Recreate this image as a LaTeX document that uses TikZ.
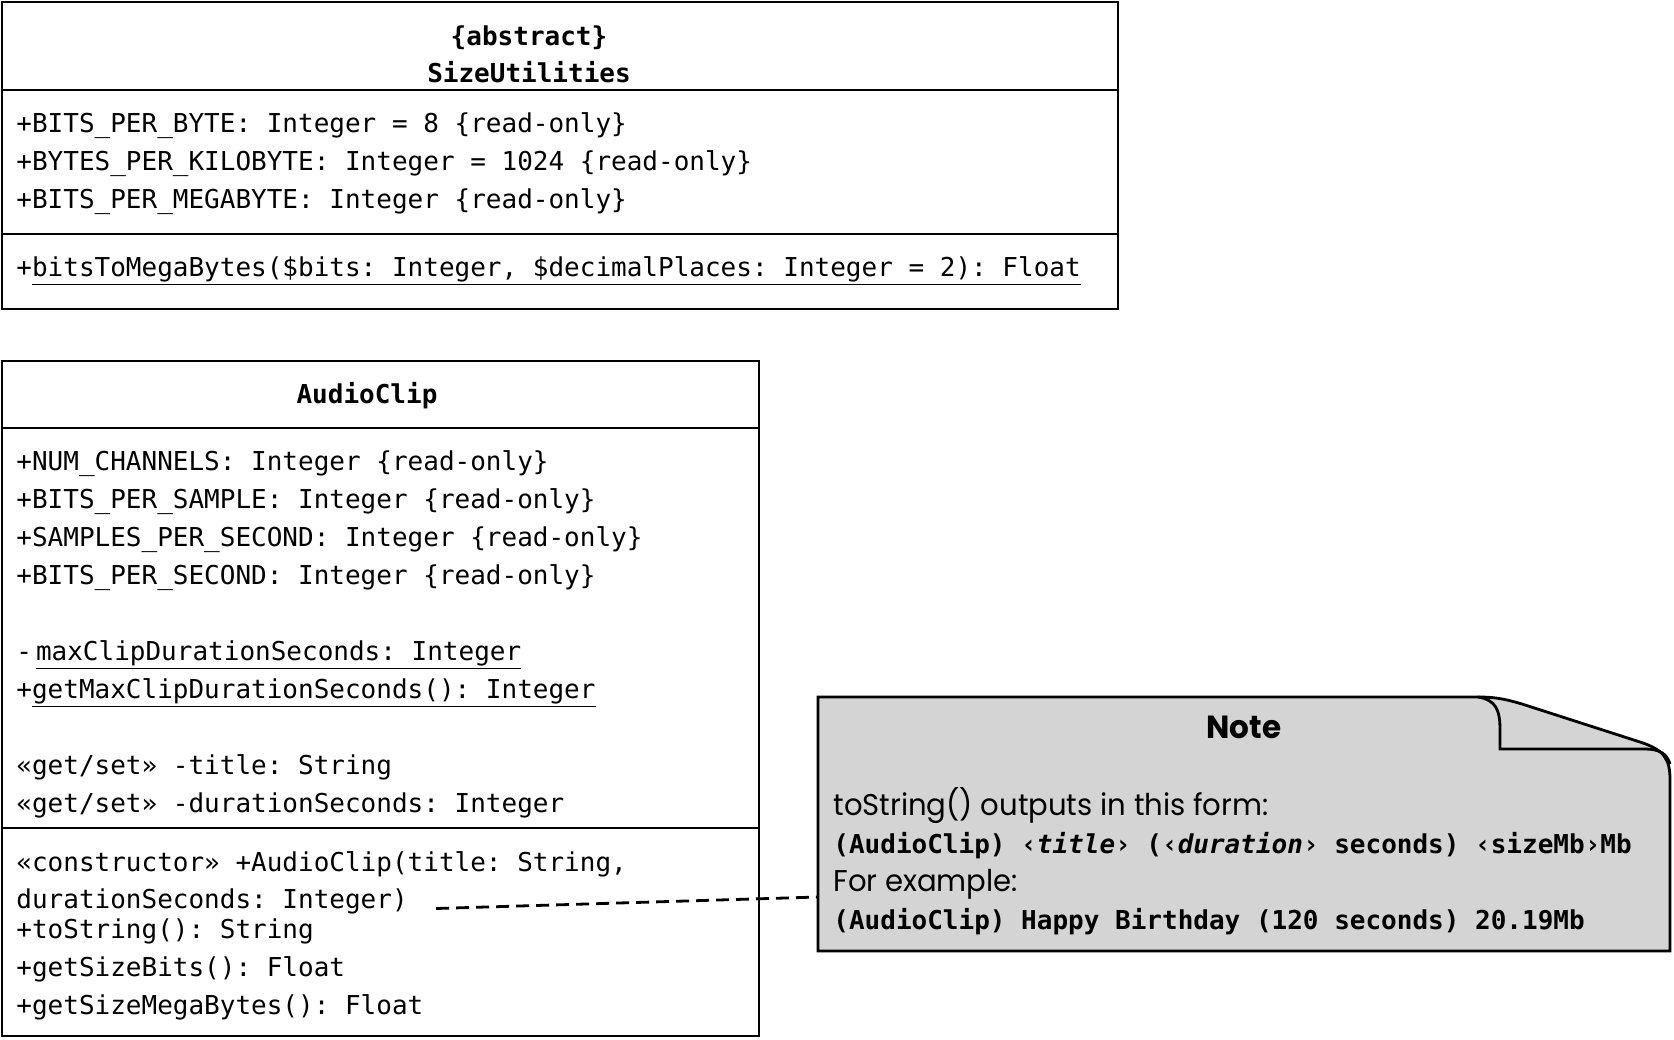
\documentclass[tikz,border=0pt]{standalone}
\usepackage{fontspec}
\setmonofont{DejaVu Sans Mono}
\newfontfamily\notefont{Poppins}[FakeStretch=0.97]
\usetikzlibrary{positioning}
\definecolor{notegray}{RGB}{212,212,212}

\begin{document}
\begin{tikzpicture}[
      x=0.5pt, y=-0.5pt,
      line width=1.4pt,
      compartment/.style={
          draw, rectangle, inner sep=0pt,
          outer sep=0pt,          % shared edges between compartments
          minimum width=558pt
        },
      member/.style={anchor=base west, inner sep=0pt,
          font=\fontsize{13pt}{15pt}\ttfamily\frenchspacing},
      classname/.style={member, anchor=base,
          font=\fontsize{13pt}{15pt}\ttfamily\bfseries\frenchspacing},
      notetext/.style={anchor=base west, inner sep=0pt,
          font=\fontsize{15pt}{17pt}\notefont},
      notecode/.style={anchor=base west, inner sep=0pt,
          font=\fontsize{13pt}{15pt}\ttfamily\bfseries\frenchspacing},
      notelink/.style={dash pattern=on 6.5pt off 3.5pt},
    ]
    \useasboundingbox (0,0) rectangle (1674,1039);

    % SizeUtilities
    \node[compartment, anchor=north west, minimum height=44pt] (suHead) at (2,2) {};
    \node[compartment, minimum height=72pt, below=0pt of suHead] (suAttr) {};
    \node[compartment, minimum height=37.5pt, below=0pt of suAttr] (suOps) {};
    \node[classname] (suStereo) at (529,45) {\{abstract\}};
    \node[classname] (suName) at (529,82) {SizeUtilities};
    \node[member] (suA1) at (15,132.5) {+BITS\_PER\_BYTE: Integer = 8 \{read-only\}};
    \node[member] (suA2) at (15,170.5) {+BYTES\_PER\_KILOBYTE: Integer = 1024 \{read-only\}};
    \node[member] (suA3) at (15,208.5) {+BITS\_PER\_MEGABYTE: Integer \{read-only\}};
    \node[member] (suO1) at (15,276.5) {+\underline{bitsToMegaBytes(\$bits: Integer, \$decimalPlaces: Integer = 2): Float}};

    % AudioClip
    \node[compartment, anchor=north west, minimum width=378.5pt, minimum height=33.5pt] (acHead) at (2,361) {};
    \node[compartment, minimum width=378.5pt, minimum height=200pt, below=0pt of acHead] (acAttr) {};
    \node[compartment, minimum width=378.5pt, minimum height=104pt, below=0pt of acAttr] (acOps) {};
    \node[classname] (acName) at (367,403.5) {AudioClip};
    \node[member] (acA1) at (15,470.5) {+NUM\_CHANNELS: Integer \{read-only\}};
    \node[member] (acA2) at (15,508.5) {+BITS\_PER\_SAMPLE: Integer \{read-only\}};
    \node[member] (acA3) at (15,546.5) {+SAMPLES\_PER\_SECOND: Integer \{read-only\}};
    \node[member] (acA4) at (15,584.5) {+BITS\_PER\_SECOND: Integer \{read-only\}};
    \node[member] (acA5) at (15,660.5) {-\kern2pt\underline{maxClipDurationSeconds: Integer}};
    \node[member] (acA6) at (15,698.5) {+\underline{getMaxClipDurationSeconds(): Integer}};
    \node[member] (acA7) at (15,774.5) {«get/set» -title: String};
    \node[member] (acA8) at (15,812.5) {«get/set» -durationSeconds: Integer};
    \node[member] (acO1) at (15,871.5) {«constructor» +AudioClip(title: String,};
    \node[member] (acO2) at (15,908.5) {durationSeconds: Integer)};
    \node[member] (acO3) at (15,938.5) {+toString(): String};
    \node[member] (acO4) at (15,976.5) {+getSizeBits(): Float};
    \node[member] (acO5) at (15,1014.5) {+getSizeMegaBytes(): Float};

    % note with folded corner
    \node[anchor=north west, inner sep=0pt, outer sep=0pt,
      minimum width=426pt, minimum height=127pt] (note) at (818,697) {};
    \draw[fill=notegray] (818,697) -- (1478,697)
      .. controls (1498,697) and (1508,700) .. (1522,704) -- (1640,742)
      .. controls (1665,750) and (1670,760) .. (1670,780)
      -- (1670,951) -- (818,951) -- cycle;
    \draw (1478,697) .. controls (1496,700) and (1500,710) .. (1500,730)
      -- (1500,749) -- (1645,749) .. controls (1660,749) and (1667,754) .. (1670,764);
    \node[anchor=base, inner sep=0pt, font=\fontsize{16pt}{18pt}\notefont\bfseries] (noteTitle) at (1244,738) {Note};
    \node[notetext] (noteL1) at (832,815.5) {toString() outputs in this form:};
    \node[notecode] (noteL2) at (832,853.5) {(AudioClip) ‹\textit{title}› (‹\textit{duration}› seconds) ‹sizeMb›Mb};
    \node[notetext] (noteL3) at (832,891.5) {For example:};
    \node[notecode] (noteL4) at (832,929.5) {(AudioClip) Happy Birthday (120 seconds) 20.19Mb};

    % link from constructor to note
    \coordinate (ctorEnd) at ([xshift=13.5pt]acO2.base east);
    \draw[notelink] (ctorEnd) -- ([yshift=-36.5pt]note.west);
  \end{tikzpicture}
\end{document}
